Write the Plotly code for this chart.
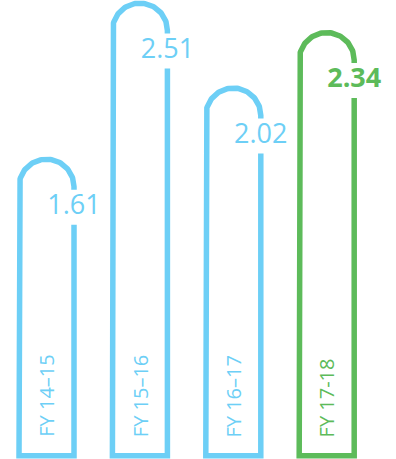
import numpy as np
import plotly.graph_objects as go

categories = ["FY 14–15", "FY 15–16", "FY 16–17", "FY 17-18"]
values = [1.61, 2.51, 2.02, 2.34]
value_labels = ["1.61", "2.51", "2.02", "2.34"]
highlight = [False, False, False, True]

BLUE = "#6dcff6"
GREEN = "#5dbb5a"
W, H = 396, 459
x_range = [-0.498, 3.742]
y_range = [-0.119, 2.528]
px_x = W / (x_range[1] - x_range[0])
px_y = H / (y_range[1] - y_range[0])
R = 27.5
rx = R / px_x
ry = R / px_y
base = -0.1
gap_off = 3 / px_y
gap_len = 35 / px_y
LW = 5.5
FONT = "Open Sans, Noto Sans, sans-serif"

fig = go.Figure()
t = np.linspace(np.pi, 0, 80)
for i, (cat, v, lab, hl) in enumerate(zip(categories, values, value_labels, highlight)):
    col = GREEN if hl else BLUE
    left, right = i - rx, i + rx
    cy = v - ry
    ax = list(i + rx * np.cos(t))
    ay = list(cy + ry * np.sin(t))
    g0 = cy - gap_off
    g1 = g0 - gap_len
    xs = [right, right, left, left] + ax + [right]
    ys = [g1, base, base, cy] + ay + [g0]
    fig.add_trace(go.Scatter(x=xs, y=ys, mode="lines",
                             line=dict(color=col, width=LW),
                             hoverinfo="skip", showlegend=False))
    fig.add_trace(go.Scatter(x=[right], y=[(g0 + g1) / 2], mode="text",
                             text=[f"<b>{lab}</b>" if hl else lab],
                             textposition="middle center",
                             textfont=dict(family=FONT, size=27, color=col),
                             hoverinfo="skip", showlegend=False))
    fig.add_annotation(x=i, y=-0.005, xref="x", yref="y", text=cat, textangle=-90,
                       showarrow=False, xanchor="center", yanchor="bottom",
                       font=dict(family=FONT, size=20, color=col))

fig.update_layout(width=W, height=H, margin=dict(l=0, r=0, t=0, b=0),
                  paper_bgcolor="white", plot_bgcolor="white",
                  xaxis=dict(range=x_range, visible=False, fixedrange=True),
                  yaxis=dict(range=y_range, visible=False, fixedrange=True))
fig.write_html("out.html", config={"displayModeBar": False})
